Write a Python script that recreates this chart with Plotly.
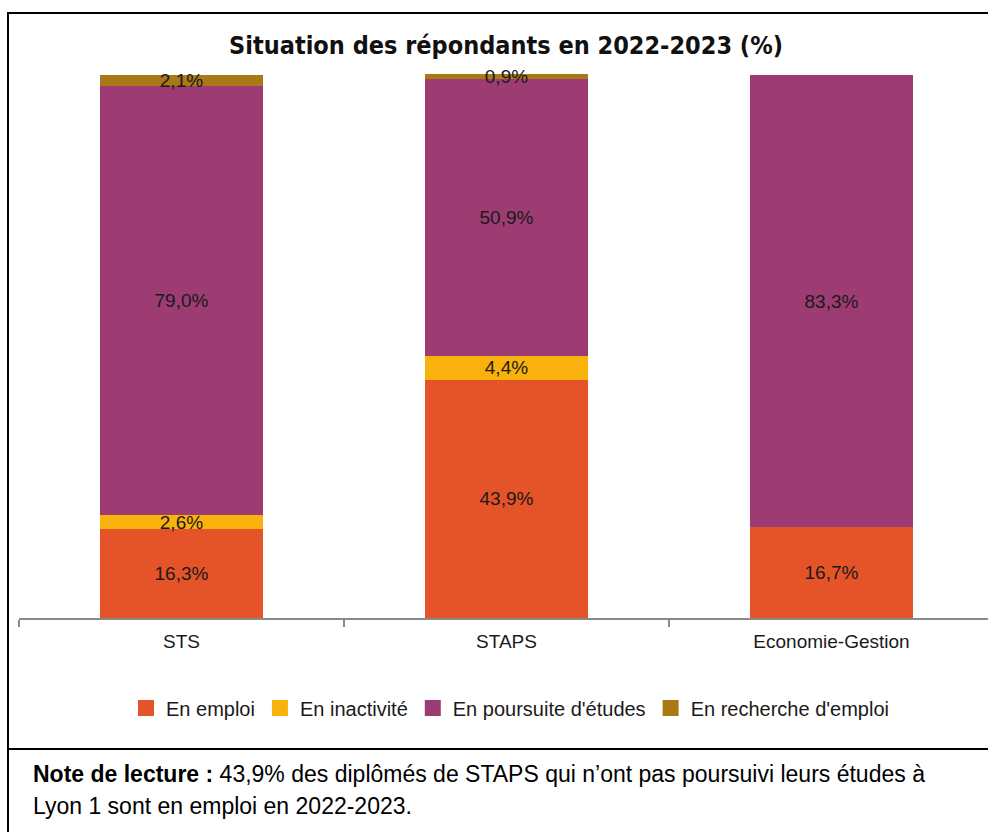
import plotly.graph_objects as go

# Data
filieres = ["STS", "STAPS", "Economie-Gestion"]
situations = ["En emploi", "En inactivité", "En poursuite d'études", "En recherche d'emploi"]
en_emploi = [16.3, 43.9, 16.7]
en_inactivite = [2.6, 4.4, None]
en_poursuite = [79.0, 50.9, 83.3]
en_recherche = [2.1, 0.9, None]
couleurs = ["#E55428", "#F9B20B", "#9C3C72", "#A97817"]

note_l1 = "<b>Note de lecture :</b> 43,9% des diplômés de STAPS qui n’ont pas poursuivi leurs études à"
note_l2 = "Lyon 1 sont en emploi en 2022-2023."

W, H = 988, 832
FONT = "Liberation Sans, Arial, sans-serif"
Y0, Y100, YTOP = 618, 75, 60   # pixel rows: baseline, 100 %, top of plot area (room for labels)


def px_x(p):
    return p / W


def px_y(p):
    return 1 - p / H


def fmt(v):
    return "" if v is None else f"{v:.1f}".replace(".", ",") + "%"


fig = go.Figure()

series = [en_emploi, en_inactivite, en_poursuite, en_recherche]
for name, vals, col in zip(situations, series, couleurs):
    fig.add_bar(
        x=filieres, y=vals, name=name,
        marker=dict(color=col, line=dict(width=0)),
        width=0.5,
        text=[fmt(v) for v in vals],
        textposition="inside", insidetextanchor="middle",
        constraintext="none",
        textfont=dict(family=FONT, size=19, color="#1a1a1a"),
        showlegend=False, hoverinfo="skip",
    )
    # legend proxy (bigger square than the default bar icon)
    fig.add_scatter(
        x=[None], y=[None], mode="markers", name=name,
        marker=dict(symbol="square", size=16, color=col),
        showlegend=True,
    )

fig.update_layout(
    width=W, height=H,
    barmode="stack",
    bargap=0.5,
    margin=dict(l=0, r=0, t=0, b=0, autoexpand=False),
    paper_bgcolor="white", plot_bgcolor="white",
    font=dict(family=FONT, size=19, color="#1a1a1a"),
    title=dict(
        text="<b>Situation des répondants en 2022-2023 (%)</b>",
        font=dict(family="DejaVu Sans Condensed, DejaVu Sans, sans-serif", size=25, color="#111"),
        x=px_x(506), xanchor="center",
        y=px_y(45), yanchor="middle", yref="container",
    ),
    xaxis=dict(
        domain=[px_x(19), 1],
        type="category",
        range=[-0.5, -0.5 + (W - 19) / 325],
        showline=True, linecolor="#8a8a8a", linewidth=1.5,
        ticks="outside", tickson="boundaries", ticklen=7, tickcolor="#8a8a8a",
        tickwidth=1.5, ticklabelstandoff=5,
        tickfont=dict(family=FONT, size=19, color="#1a1a1a"),
        showgrid=False, zeroline=False,
    ),
    yaxis=dict(
        domain=[px_y(Y0), px_y(YTOP)],
        range=[0, 100 * (Y0 - YTOP) / (Y0 - Y100)],
        visible=False,
    ),
    legend=dict(
        orientation="h", traceorder="normal",
        x=px_x(510), xanchor="center",
        y=px_y(708), yanchor="middle",
        font=dict(family=FONT, size=20, color="#1a1a1a"),
        itemclick=False,
    ),
    shapes=[
        # chart frame
        dict(type="rect", xref="paper", yref="paper",
             x0=px_x(8), x1=1.02, y0=px_y(749), y1=px_y(13),
             line=dict(color="black", width=2)),
        # note frame
        dict(type="rect", xref="paper", yref="paper",
             x0=px_x(8), x1=1.02, y0=-0.02, y1=px_y(749),
             line=dict(color="black", width=2)),
    ],
    annotations=[
        dict(text=note_l1, xref="paper", yref="paper",
             x=px_x(31), xanchor="left", y=px_y(774), yanchor="middle",
             align="left", showarrow=False,
             font=dict(family=FONT, size=23, color="black")),
        dict(text=note_l2, xref="paper", yref="paper",
             x=px_x(31), xanchor="left", y=px_y(806), yanchor="middle",
             align="left", showarrow=False,
             font=dict(family=FONT, size=23, color="black")),
    ],
)

# the page body has a default 8px margin: remove it so the figure sits at (0, 0)
fig.write_html("out.html", config={"displayModeBar": False},
               post_script="document.body.style.margin='0';")
